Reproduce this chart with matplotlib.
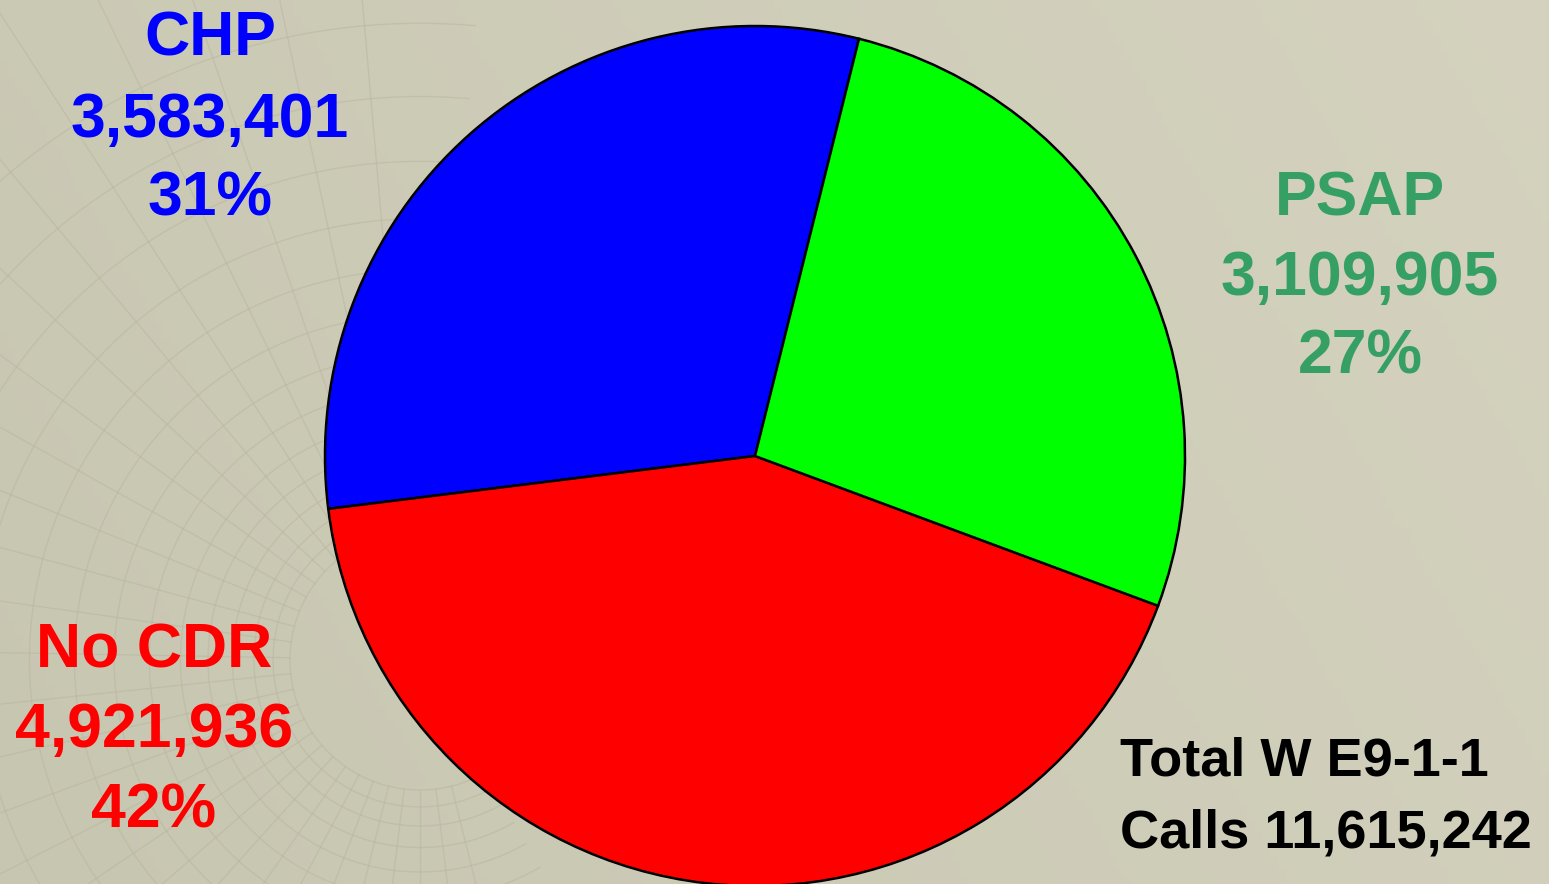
import numpy as np
import matplotlib
matplotlib.use("Agg")
import matplotlib.pyplot as plt

# ---- data ----
categories = ["CHP", "No CDR", "PSAP"]
values = [3583401, 4921936, 3109905]
percent_labels = ["31%", "42%", "27%"]
wedge_colors = ["#0000FF", "#FF0000", "#00FF00"]
label_colors = ["#0000FF", "#FF0000", "#36A064"]
total_lines = ["Total W E9-1-1", "Calls 11,615,242"]

W, H = 1549, 884
fig = plt.figure(figsize=(W / 100, H / 100), dpi=100)

# ---- background (decorative texture) ----
bg = fig.add_axes([0, 0, 1, 1])
bg.set_xlim(0, W)
bg.set_ylim(H, 0)
bg.axis("off")
xx = np.linspace(0, 1, 200)
yy = np.linspace(0, 1, 120)
X, Y = np.meshgrid(xx, yy)
t = np.clip(0.6 * X + 0.2 * (1 - Y), 0, 1)
c0 = np.array([199, 198, 177]) / 255
c1 = np.array([216, 214, 194]) / 255
img = c0[None, None, :] * (1 - t[..., None]) + c1[None, None, :] * t[..., None]
bg.imshow(img, extent=[0, W, H, 0], aspect="auto", zorder=0)

gcx, gcy = 420, 660
gcol = (0.72, 0.71, 0.62)
for ang in np.arange(95, 290, 7):
    a = np.deg2rad(ang)
    r = np.array([130, 1100])
    bg.plot(gcx + r * np.cos(a), gcy - r * np.sin(a), color=gcol, lw=1.0, alpha=0.5, zorder=1)
radii = 130 * 1.13 ** np.arange(0, 14)
th = np.deg2rad(np.linspace(85, 300, 300))
for rr in radii:
    bg.plot(gcx + rr * np.cos(th), gcy - rr * np.sin(th), color=gcol, lw=1.0, alpha=0.5, zorder=1)

# ---- pie ----
cx, cy, R = 755, 456, 430
ax = fig.add_axes([(cx - R) / W, (H - cy - R) / H, 2 * R / W, 2 * R / H])
ax.pie(values, colors=wedge_colors, startangle=76, counterclock=True,
       wedgeprops=dict(edgecolor="black", linewidth=1.8))
ax.set_aspect("equal")
ax.set_xlim(-1.0, 1.0)
ax.set_ylim(-1.0, 1.0)

# ---- labels ----
fp = dict(family="Liberation Sans", weight="bold", fontsize=45, ha="center", va="baseline")
label_pos = {"CHP": (210, [55, 137, 215]),
             "No CDR": (154, [667, 747, 827]),
             "PSAP": (1360, [215, 295, 373])}
for cat, val, pct, col in zip(categories, values, percent_labels, label_colors):
    x, ys = label_pos[cat]
    for txt, y in zip([cat, f"{val:,}", pct], ys):
        fig.text(x / W, 1 - y / H, txt, color=col, **fp)

for txt, y in zip(total_lines, [775, 848]):
    fig.text(1120 / W, 1 - y / H, txt, color="black", family="Liberation Sans",
             weight="bold", fontsize=39, ha="left", va="baseline")

fig.savefig("out.png", dpi=100)
